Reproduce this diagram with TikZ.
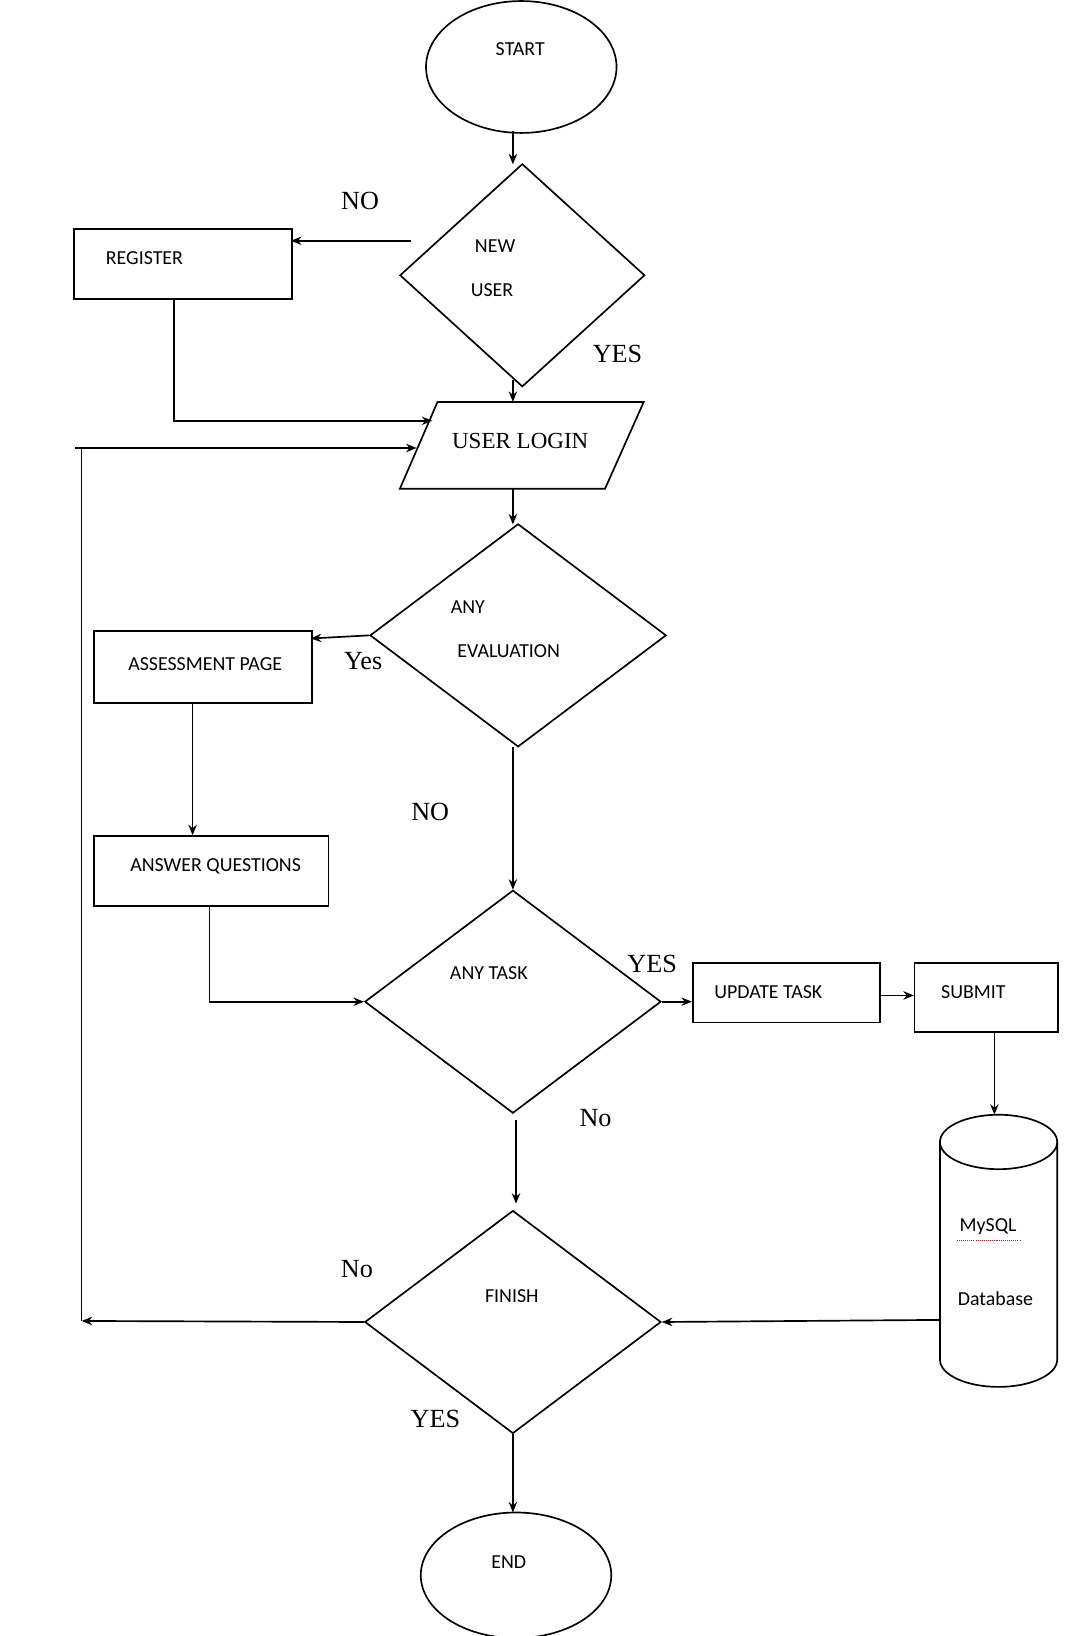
\documentclass[tikz,border=0pt]{standalone}
\usepackage{fontspec}
\setmainfont{Carlito}
\newfontfamily\ser{Liberation Serif}
\usetikzlibrary{shapes.geometric,arrows.meta}
\begin{document}
\begin{tikzpicture}[x=1pt,y=-1pt,
  line width=1.6pt,
  box/.style={draw,rectangle,anchor=north west,inner sep=0},
  dia/.style={draw,diamond,inner sep=0},
  ell/.style={draw,ellipse,inner sep=0},
  txt/.style={font=\fontsize{19}{21}\selectfont},
  lab/.style={font=\ser\fontsize{25}{27}\selectfont},
  arr/.style={-{Stealth[length=10pt,width=8pt]}}]
\useasboundingbox (0,0) rectangle (1024,1563);
% shapes
\node[ell,minimum width=182,minimum height=126] (start) at (498,64) {};
\node[txt] at (497,47) {START};
\node[dia,minimum width=234,minimum height=213] (newuser) at (499,263) {};
\node[txt] at (473,235) {NEW};
\node[txt] at (470,277) {USER};
\node[box,minimum width=208,minimum height=67] (reg) at (70,218) {};
\node[txt] at (138,247) {REGISTER};
\draw (418,384) -- (615,384) -- (578,467) -- (382,467) -- cycle;
\node[font=\ser\fontsize{22}{24}\selectfont] (login) at (497,421) {USER LOGIN};
\node[dia,minimum width=283,minimum height=213] (eval) at (495,607) {};
\node[txt] at (447,580) {ANY};
\node[txt] at (486,622) {EVALUATION};
\node[box,minimum width=208,minimum height=69] (assess) at (89,602) {};
\node[txt] at (196,634) {ASSESSMENT PAGE};
\node[box,minimum width=224,minimum height=67] (answer) at (89,798) {};
\node[txt] at (206,828) {ANSWER QUESTIONS};
\node[dia,minimum width=283,minimum height=213] (task) at (490,957) {};
\node[txt] at (467,930) {ANY TASK};
\node[box,minimum width=179,minimum height=57] (update) at (661,919) {};
\node[txt] at (734,948) {UPDATE TASK};
\node[box,minimum width=137,minimum height=66] (submit) at (873,919) {};
\node[txt] at (930,948) {SUBMIT};
\draw (898,1091) arc[start angle=180,end angle=-180,x radius=56,y radius=26]
  (898,1091) -- (898,1299) arc[start angle=180,end angle=0,x radius=56,y radius=26] -- (1010,1091);
\coordinate (db) at (898,1261);
\node[txt] at (944,1172) {MySQL};
\draw[red,densely dotted,line width=1pt] (914,1185) -- (976,1185);
\node[txt] at (951,1241) {Database};
\node[dia,minimum width=283,minimum height=213] (finish) at (490,1263) {};
\node[txt] at (489,1238) {FINISH};
\node[ell,minimum width=182,minimum height=120] (end) at (493,1505) {};
\node[txt] at (486,1492) {END};
% labels
\node[lab] at (344,192) {NO};
\node[lab] at (590,338) {YES};
\node[lab] at (347,632) {Yes};
\node[lab] at (411,776) {NO};
\node[lab] at (623,921) {YES};
\node[lab] at (569,1068) {No};
\node[lab] at (341,1212) {No};
\node[lab] at (416,1356) {YES};
% connectors
\draw[arr] (490,125) -- (490,157);
\draw[arr] (393,230) -- (278,230);
\draw[arr] (166,285) -- (166,402) -- (413,402);
\draw[arr] (490,363) -- (490,384);
\coordinate (loopL) at (78,428);
\draw[arr] (72,428) -- (398,428);
\draw (loopL) -- (78,1262);
\draw[arr] (finish.west) -- (78,1262);
\draw[arr] (490,467) -- (490,501);
\draw[arr] (eval.west) -- (297,610);
\draw[arr] (184,671) -- (184,798);
\draw[arr] (490,714) -- (490,850);
\draw[arr] (200,865) -- (200,957) -- (task.west);
\draw[arr] (task.east) -- (661,957);
\draw[arr] (840,951) -- (873,951);
\draw[arr] (950,985) -- (950,1065);
\draw[arr] (db) -- (finish.east);
\draw[arr] (493,1070) -- (493,1150);
\draw[arr] (finish.south) -- (490,1445);
\end{tikzpicture}
\end{document}
